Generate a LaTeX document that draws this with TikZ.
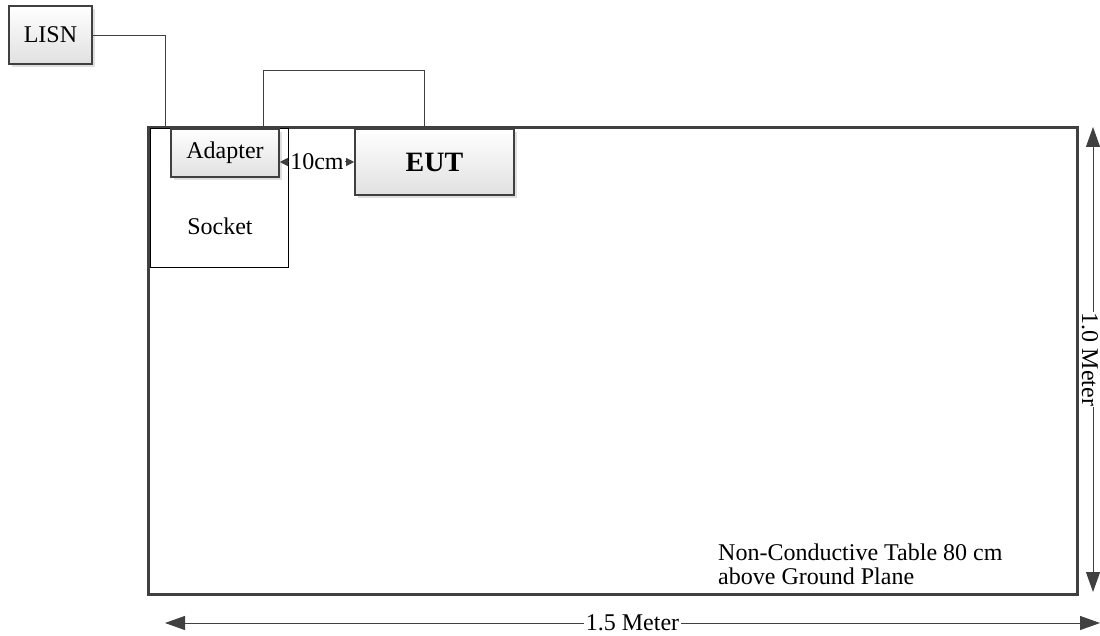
\documentclass[tikz,border=0pt]{standalone}
\usepackage{fontspec}
\setmainfont{Liberation Serif}
\usetikzlibrary{positioning, arrows.meta, shadows}
\definecolor{edgegray}{HTML}{404040}

\begin{document}
\begin{tikzpicture}[x=1pt, y=-1pt,
            every node/.style={font=\fontsize{24}{24}\selectfont},
            unit/.style={draw=edgegray, line width=1.6pt, top color=white, bottom color=black!12,
                    drop shadow={shadow xshift=3pt, shadow yshift=-3pt, fill=black!25, opacity=.5}},
            wire/.style={draw=edgegray, line width=0.9pt},
            dimarrow/.style={draw=edgegray, line width=1pt, {Triangle[length=20pt, width=14pt]}-{Triangle[length=20pt, width=14pt]}},
            gaparrow/.style={draw=edgegray, line width=1pt, {Triangle[length=8pt, width=8pt]}-{Triangle[length=8pt, width=8pt]}}
        ]
        \useasboundingbox (0,0) rectangle (1100,636);

        % Table
        \node (table) [draw=edgegray, line width=3pt, minimum width=929pt, minimum height=466pt] at (612.5,361) {};

        % Socket with the adapter
        \node (socket) [draw, line width=1.4pt, minimum width=138pt, minimum height=139pt, anchor=north west] at (150,128) {};
        \node (socketlabel) at (220,226) {Socket};
        \node (adapter) [unit, minimum width=108pt, minimum height=48pt] at (225,153) {Adapter};

        % EUT
        \node (eut) [unit, minimum width=159pt, minimum height=66pt, font=\fontsize{28}{28}\selectfont\bfseries] at (434.5,162) {EUT};

        % LISN
        \node (lisn) [unit, minimum width=83pt, minimum height=58pt] at (50.5,35) {LISN};

        % Cables
        \coordinate (plug) at (165,128);
        \draw[wire] (lisn.east) -| (plug);
        \draw[wire] ([xshift=-16pt]adapter.north east) -- ++(0,-58) -| ([xshift=-10.5pt]eut.north);

        % Distance adapter - EUT
        \draw[gaparrow] (adapter.east |- eut.west) -- node[fill=white, inner sep=1pt] {10cm} (eut.west);

        % Table size
        \coordinate (vtop) at (1093,127);
        \coordinate (vbot) at (1093,592);
        \draw[dimarrow] (vtop) -- coordinate (vmid) (vbot);
        \node (vlabel) [fill=white, inner sep=1pt, rotate=-90] at ([xshift=-3pt]vmid) {1.0 Meter};
        \coordinate (hleft) at (165,623);
        \coordinate (hright) at (1100,623);
        \draw[dimarrow] (hleft) -- node[fill=white, inner sep=2pt] {1.5 Meter} (hright);

        \node (tablenote) [anchor=north west, align=left, inner sep=0pt] at (718,544) {Non-Conductive Table 80 cm\\above Ground Plane};
    \end{tikzpicture}
\end{document}
